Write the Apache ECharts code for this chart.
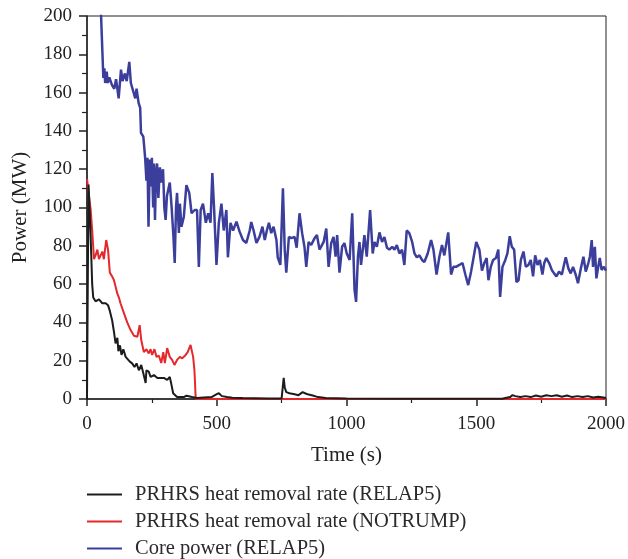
<!DOCTYPE html>
<html>
<head>
<meta charset="utf-8">
<script src="https://cdn.jsdelivr.net/npm/echarts@6/dist/echarts.min.js"></script>
<style>html,body{margin:0;padding:0;background:#fff;}#c{width:628px;height:559px;}</style>
</head>
<body>
<div id="c"></div>
<script>
var seriesNames = ['PRHRS heat removal rate (RELAP5)', 'PRHRS heat removal rate (NOTRUMP)', 'Core power (RELAP5)'];
var xTicks = [0, 500, 1000, 1500, 2000];
var yTicks = [0, 20, 40, 60, 80, 100, 120, 140, 160, 180, 200];

var blackT = [0,3,6,14,20,24,33,40,46,53,59,65,72,81,88,97,104,110,117,121,127,133,140,149,155,165,174,183,191,200,209,217,226,229,238,245,258,271,283,296,309,319,324,332,347,373,383,405,424,450,480,500,508,520,540,560,600,700,750,754,758,762,768,780,800,815,831,840,850,870,890,920,1000,1200,1600,1630,1640,1650,1670,1690,1710,1730,1750,1770,1790,1810,1830,1850,1870,1890,1910,1930,1950,1970,1990,2000];
var blackP = [0,60,112,85,60,53,51,50,52,53,50,51,50,49,46,41,35,29,32,25,28,23,26,22,21,19.5,18.6,16.7,18.6,15,17.8,13.4,8.4,15,14.3,11.5,12.5,11,11,11,10,11.5,8.4,3,1,1,1.7,1,0.5,0.8,1,2.5,3,1.5,1,0.7,0.5,0.3,0.3,0.5,11,6,3.6,3,2.5,2,3.6,3,2.5,1.8,1,0.5,0.2,0.1,0.1,1,2,1.5,1,1.5,1,1.8,1.2,2,1.5,2,1.2,1.8,1,1.5,1,1.5,0.8,1.2,0.8,0.5];

var redT = [0,2,14,20,27,33,40,46,53,59,65,74,81,88,97,104,117,123,129,142,155,168,181,194,203,209,219,229,238,245,251,260,268,277,286,294,300,309,319,328,337,347,358,367,380,388,399,409,414,419,2000];
var redP = [115,114,99,88,73,75,78,73,74,77,73,83,78,66,64,62,55,53,50,45,40,36,33,32.5,38.6,30.8,24.5,26,23.8,26,23,26,22,22.6,18.8,24.5,18.8,26.6,22,20.4,17.8,20.4,22,21.2,23,24.5,28.2,22,15,0,0];

var blueT = [51,63,67,70,76,80,86,96,105,112,122,131,137,146,153,163,169,176,186,191,199,205,208,217,224,229,233,237,242,246,250,255,258,262,266,270,275,281,287,293,298,303,308,313,319,326,333,338,343,347,354,358,364,373,383,394,403,415,424,431,438,447,458,467,476,483,490,499,508,518,527,537,543,553,563,576,588,601,614,627,633,642,653,665,676,685,693,701,710,719,730,735,745,755,762,768,778,787,800,808,819,829,838,845,854,864,877,886,896,912,922,931,941,950,958,964,973,983,992,1001,1012,1022,1031,1037,1044,1050,1056,1069,1078,1091,1101,1108,1117,1127,1137,1146,1156,1165,1176,1185,1194,1204,1214,1223,1232,1242,1253,1262,1271,1281,1291,1300,1313,1326,1335,1347,1358,1368,1377,1392,1403,1412,1422,1435,1447,1458,1469,1480,1488,1500,1512,1522,1531,1540,1547,1556,1565,1576,1585,1592,1601,1612,1620,1629,1637,1646,1655,1663,1672,1682,1691,1701,1710,1719,1727,1736,1745,1755,1762,1770,1781,1791,1800,1809,1819,1830,1838,1845,1855,1864,1873,1883,1892,1903,1913,1922,1932,1938,1945,1950,1957,1963,1970,1976,1983,1992,2000];
var blueP = [212,167.6,172.7,165,171,165,168,164,162,167,157,172,166,170,166,176,165,164,157,162,154.5,152,139,137,126,114,126,90,125,111,126,100,123,93.5,118,123,105,121,113,120,100,93.5,106,105.5,113,100.4,85,71,100,107.6,86.7,102,90,95,111.7,107.6,97,98.7,98.7,69,98.7,102,92,97,92,118,98.7,70,92,102,88,98.7,74,92,88,92.6,87.4,83,81.5,88,92.4,88,81.5,84.8,90,83,88,92,86.6,90,83,74,70,110,78,66,84.6,84,84.6,79,97,86.6,79.5,69,82,80.4,84,85.6,78,82,89,69,81.4,84.6,74.3,85.6,66,79.5,81.4,76,72.6,97,57,50.7,74.3,82,70,85.6,74.3,98.7,76,82,79.5,87,82,84.6,79,78,79.5,78,80.4,76,78,70,88,86.6,82,76,74,75,72.6,71.5,76,83,78,65,74.3,80.4,75,87,65,69,69,70,71,65,59.5,66.5,72.6,82,78,67,71,73.6,62,69,72.6,73.6,78,53.3,69,72.6,76,85,79.5,78,61,62,72.6,77,69,70,72.6,64,75,70,72.6,65,71,73.6,71,67.4,65.6,64,66.5,65,70,74,68.2,65.6,69,65,60.5,68.2,74.3,66.5,71,74.3,83,69,79.5,63,69,73.6,67.4,69,67];

function pairs(t, p) { return t.map(function (v, i) { return [v, p[i]]; }); }

var font = 'Liberation Serif, Times New Roman, serif';
var chart = echarts.init(document.getElementById('c'), null, { renderer: 'canvas' });
chart.setOption({
  animation: false,
  backgroundColor: '#ffffff',
  grid: { left: 87, right: 21, top: 16, bottom: 160, show: true, borderColor: '#222', borderWidth: 1, containLabel: false },
  legend: {
    orient: 'vertical', left: 87, top: 484, itemGap: 6, padding: 0,
    itemWidth: 35, itemHeight: 2, icon: 'rect',
    textStyle: { fontFamily: font, fontSize: 20.5, color: '#2a2a2a', lineHeight: 20, padding: [0, 0, 0, 8] },
    data: seriesNames
  },
  xAxis: {
    type: 'value', min: xTicks[0], max: xTicks[xTicks.length - 1], interval: 500,
    name: 'Time (s)', nameLocation: 'middle', nameGap: 46,
    nameTextStyle: { fontFamily: font, fontSize: 21, color: '#222' },
    axisLine: { show: true, onZero: false, lineStyle: { color: '#222', width: 1.5 } },
    axisTick: { show: true, inside: false, length: 7, lineStyle: { color: '#222', width: 1.5 } },
    minorTick: { show: true, splitNumber: 2, length: 4, lineStyle: { color: '#222', width: 1.2 } },
    axisLabel: { fontFamily: font, fontSize: 19, color: '#222', margin: 16, formatter: function (v) { return String(v); } },
    splitLine: { show: false }
  },
  yAxis: {
    type: 'value', min: yTicks[0], max: yTicks[yTicks.length - 1], interval: 20,
    name: 'Power (MW)', nameLocation: 'middle', nameGap: 56,
    nameTextStyle: { fontFamily: font, fontSize: 21, color: '#222' },
    axisLine: { show: true, onZero: false, lineStyle: { color: '#222', width: 1.5 } },
    axisTick: { show: true, inside: false, length: 8, lineStyle: { color: '#222', width: 1.5 } },
    minorTick: { show: true, splitNumber: 2, length: 5, lineStyle: { color: '#222', width: 1.2 } },
    axisLabel: { fontFamily: font, fontSize: 19, color: '#222', margin: 15, formatter: function (v) { return String(v); } },
    splitLine: { show: false }
  },
  series: [
    { name: seriesNames[0], type: 'line', data: pairs(blackT, blackP), showSymbol: false, symbol: 'none', clip: true,
      lineStyle: { color: '#1c1c1c', width: 2 }, itemStyle: { color: '#1c1c1c' }, z: 4 },
    { name: seriesNames[1], type: 'line', data: pairs(redT, redP), showSymbol: false, symbol: 'none', clip: true,
      lineStyle: { color: '#e5282b', width: 2 }, itemStyle: { color: '#e5282b' }, z: 3 },
    { name: seriesNames[2], type: 'line', data: pairs(blueT, blueP), showSymbol: false, symbol: 'none', clip: true,
      lineStyle: { color: '#3b3f9b', width: 2.5 }, itemStyle: { color: '#3b3f9b' }, z: 2 }
  ]
});
</script>
</body>
</html>
